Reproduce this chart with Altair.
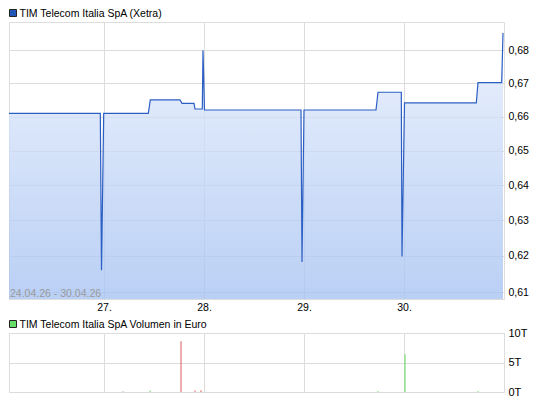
import altair as alt
import pandas as pd

# ---- data ----
# trading time in days counted from the open of 24.04.26 (one day per session)
t_price = [0.0, 0.963, 0.975, 0.997, 1.443, 1.463, 1.76, 1.78, 1.90, 1.91,
           1.983, 1.99, 2.005, 2.97, 2.98, 3.0, 3.72, 3.74, 3.973, 3.98,
           4.005, 4.723, 4.74, 4.977, 4.99]
price = [0.661, 0.661, 0.616, 0.661, 0.661, 0.665, 0.665, 0.664, 0.664, 0.6623,
         0.6623, 0.680, 0.662, 0.662, 0.6183, 0.662, 0.662, 0.6673, 0.6673, 0.6198,
         0.6641, 0.6641, 0.6702, 0.6702, 0.6853]

t_vol = [1.19, 1.46, 1.77, 1.91, 1.97, 3.74, 4.01, 4.74]
vol_t = [0.15, 0.25, 8.6, 0.25, 0.3, 0.15, 6.4, 0.15]      # in thousands (T)
vol_color = ["#aaaaaa", "#62d862", "#e05a5a", "#e05a5a", "#e05a5a",
             "#62d862", "#62d862", "#62d862"]

day_ticks = [1, 2, 3, 4]
day_labels = ["24.", "27.", "28.", "29.", "30."]
price_ticks = [0.61, 0.62, 0.63, 0.64, 0.65, 0.66, 0.67, 0.68]
vol_ticks = [0, 5, 10]

title_price = "TIM Telecom Italia SpA (Xetra)"
title_vol = "TIM Telecom Italia SpA Volumen in Euro"
date_range = "24.04.26 - 30.04.26"

y_domain = [0.6081, 0.6887]
x_domain = [0.05, 5]

# ---- tables ----
df_price = pd.DataFrame({"t": t_price, "p": price})
df_vol = pd.DataFrame({"t": t_vol, "v": vol_t, "c": vol_color})

FONT = "Liberation Sans"
GRID = "#dcdcdc"
label_arr = "[" + ",".join("'%s'" % s for s in day_labels) + "]"

x_top = alt.X("t:Q", scale=alt.Scale(domain=x_domain, nice=False, zero=False),
              axis=alt.Axis(values=day_ticks, labelExpr=label_arr + "[datum.value]",
                            title=None, ticks=False, domain=False, grid=True,
                            gridColor=GRID, labelPadding=3, labelFontSize=10.5,
                            labelColor="#000000", labelFont=FONT))
y_top = alt.Y("p:Q", scale=alt.Scale(type="log", domain=y_domain, nice=False),
              axis=alt.Axis(orient="right", values=price_ticks,
                            labelExpr="replace(format(datum.value, '.2f'), '.', ',')",
                            title=None, ticks=False, domain=False, grid=True,
                            gridColor=GRID, labelPadding=4, labelFontSize=10.5,
                            labelColor="#000000", labelFont=FONT))

gradient = alt.Gradient(
    gradient="linear",
    stops=[alt.GradientStop(color="#e6eefc", offset=0),
           alt.GradientStop(color="#a6c2f2", offset=1)],
    x1=1, x2=1, y1=0, y2=1)

area = alt.Chart(df_price).mark_area(fill=gradient, fillOpacity=0.78, clip=True).encode(
    x=x_top, y=y_top, y2=alt.datum(y_domain[0]))
line = alt.Chart(df_price).mark_line(color="#2c5fc4", strokeWidth=1.2, clip=True).encode(
    x="t:Q", y="p:Q")

date_df = pd.DataFrame({"label": [date_range]})
date_txt = alt.Chart(date_df).mark_text(align="left", baseline="alphabetic", fontSize=10.5,
                                        color="#9a9a9a", font=FONT).encode(
    x=alt.value(1), y=alt.value(275), text="label:N")

leg1_df = pd.DataFrame({"label": [title_price]})
leg1_sq = alt.Chart(leg1_df).mark_rect(fill="#1f56b8", stroke="#222222", strokeWidth=1).encode(
    x=alt.value(0.5), x2=alt.value(7.5), y=alt.value(-12.5), y2=alt.value(-5.5))
leg1_txt = alt.Chart(leg1_df).mark_text(align="left", baseline="alphabetic", fontSize=10.5,
                                        color="#000000", font=FONT).encode(
    x=alt.value(10.5), y=alt.value(-5.5), text="label:N")

top = alt.layer(area, line, date_txt, leg1_sq, leg1_txt).properties(width=495, height=277)

# ---- volume panel ----
x_bot = alt.X("t:Q", scale=alt.Scale(domain=x_domain, nice=False, zero=False),
              axis=alt.Axis(values=day_ticks, labels=False, title=None, ticks=False,
                            domain=False, grid=True, gridColor=GRID))
y_bot = alt.Y("v:Q", scale=alt.Scale(domain=[0, 10], nice=False),
              axis=alt.Axis(orient="right", values=vol_ticks,
                            labelExpr="datum.value + 'T'", title=None, ticks=False,
                            domain=False, grid=True, gridColor=GRID, labelPadding=4,
                            labelFontSize=11, labelColor="#000000", labelFont=FONT))

bars = alt.Chart(df_vol).mark_rule(strokeWidth=1).encode(
    x=x_bot, y=y_bot, y2=alt.datum(0), color=alt.Color("c:N", scale=None))

leg2_df = pd.DataFrame({"label": [title_vol]})
leg2_sq = alt.Chart(leg2_df).mark_rect(fill="#66dd66", stroke="#222222", strokeWidth=1).encode(
    x=alt.value(0.5), x2=alt.value(7.5), y=alt.value(-12.5), y2=alt.value(-5.5))
leg2_txt = alt.Chart(leg2_df).mark_text(align="left", baseline="alphabetic", fontSize=10.5,
                                        color="#000000", font=FONT).encode(
    x=alt.value(10.5), y=alt.value(-5.5), text="label:N")

bottom = alt.layer(bars, leg2_sq, leg2_txt).properties(width=495, height=59)

chart = alt.vconcat(top, bottom, spacing=34, bounds="flush").resolve_scale(
    x="independent", y="independent"
).properties(
    padding={"left": 0, "top": 0, "right": 5, "bottom": 0}
).configure_view(stroke=GRID).configure(font=FONT, background="white")

chart.save("out.html", embed_options={"renderer": "svg", "actions": False})
